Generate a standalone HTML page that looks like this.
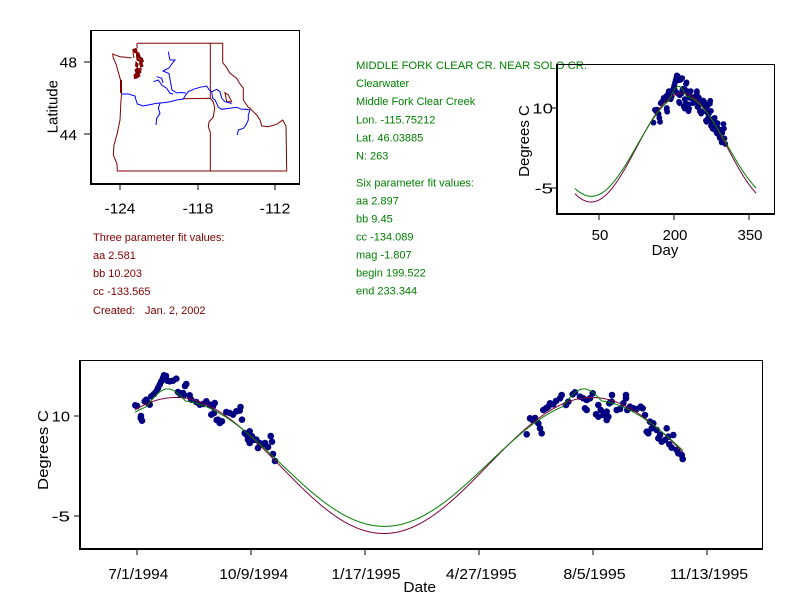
<!DOCTYPE html>
<html>
<head>
<meta charset="utf-8">
<style>
html,body{margin:0;padding:0;background:#fff;}
svg{display:block;}
text{font-family:"Liberation Sans",Arial,sans-serif;}
.t{font-size:15px;fill:#000;}
.s{font-size:11px;}
.g{fill:#008000;}
.r{fill:#800000;}
</style>
</head>
<body>
<svg id="s" xmlns="http://www.w3.org/2000/svg" width="792" height="611" viewBox="0 0 792 611">
<rect x="0" y="0" width="792" height="611" fill="#fff"/>

<!-- ===== MAP ===== -->
<g fill="none" stroke-width="1">
  <path stroke="#800000" d="M137.3,43.3 L222.7,43.3 L222.7,62.7 L226,66.7 L230,73.3 L236.7,78.3 L240,84 L243.3,88 L243.3,100 L248.3,107.3 L250,108.3 L256.7,115 L260,120 L261.7,126 L268.3,126.7 L276.7,124.3 L282.7,120 L286,126 L286.7,171 L117.3,171 L117,164 L113.3,155 L114,145 L117.3,133.3 L120,120 L121,100 L121.7,94 L120.5,80 L117.7,70 L116,64 L113.3,58 L112.7,54 L116,55.3 L120,56.7 L126,57.3 L131.7,58"/>
  <path stroke="#800000" d="M210.3,43.3 L210.3,98.3"/>
  <path stroke="#800000" d="M183.3,98.7 L210.3,98.3 L213.3,102 L214.7,108 L213.3,117 L209,122 L208.3,127 L210.3,132 L210.3,171"/>
  <path stroke="#800000" d="M225,92.7 L228.3,95 L231.7,101.7 L226.7,101.7 Z"/>
  <g fill="#800000" stroke="#800000" stroke-width="1">
    <path d="M133,49.5 L136,48.5 L137,51 L135,53 L133,52 Z"/>
    <path d="M136.5,52 L139,53 L140,56 L138,58 L139,61 L137,60 L136.5,56 Z"/>
    <path d="M139,56.5 L142,58 L143.5,61 L142,63 L143,66 L141,67 L139.5,64 L140,60 Z"/>
    <path d="M136,62 L138,64 L137.5,67 L135.5,66 Z"/>
    <path d="M137,68 L140,69 L141,72 L139,74 L140,76 L137,78 L134.5,78.5 L134,75 L136,73 L135,70 Z"/>
  </g>
  <path stroke="#800000" d="M136.7,43.3 L137.3,48.5 M133,53 L134,58 M140,67 L142,70"/>
  <rect x="120" y="80" width="2" height="13" fill="#800000" stroke="none"/>
  <path stroke="#0000ff" d="M121.7,94 L128.3,94 L135,96 L136,100 L137.3,104 L143.3,106 L148.3,105 L156.7,103.3 L163.3,102.7 L170,101.7 L176.7,100 L183.3,99 L185,96 L188.3,91.7 L193.3,89.3 L200,87.3 L206.7,86 L209.3,90 L211.7,91.7 L212.7,98.3 L215,100 L216.7,103.3 L218.3,107.3 L221.7,109.3 L230,108.3 L236.7,107.3 L241.7,109.3 L246.7,109.3 L250,110 L248.3,115 L248.3,120 L246,125 L243.3,128.3 L238.3,130 L237.3,135"/>
  <path stroke="#0000ff" d="M211.7,91.7 L216.7,89.3 L220,91.7 L221.7,98.3 L225,101.7 L230,103 L231.7,104"/>
  <path stroke="#0000ff" d="M168.3,51.7 L170,60 L175,60 L171.7,64 L169,68 L163,71 L169,73.5 L170.7,83 L172,90 L177,93 L181,92.5 L186,93"/>
  <path stroke="#0000ff" d="M153.3,81.7 L158.3,80 L161.7,85 L166.7,88.3 L170,93.3 L173.3,94"/>
  <path stroke="#0000ff" d="M156.7,76.7 L161.7,78.3 L163,83"/>
  <path stroke="#0000ff" d="M160,103.3 L158.3,108.3 L160,113.3 L156.7,118.3 L156,125"/>
</g>
<!-- map frame -->
<g stroke="#000" fill="none">
  <rect x="90.5" y="30.5" width="209" height="153" stroke-width="1"/>
  <line x1="91" y1="30" x2="91" y2="185" stroke-width="2"/>
  <line x1="90" y1="184" x2="300" y2="184" stroke-width="2"/>
  <line x1="120" y1="184" x2="120" y2="190"/>
  <line x1="198" y1="184" x2="198" y2="190"/>
  <line x1="275" y1="184" x2="275" y2="190"/>
  <line x1="84" y1="62" x2="90" y2="62"/>
  <line x1="84" y1="134" x2="90" y2="134"/>
</g>
<text class="t" x="120" y="213.3" text-anchor="middle" textLength="30.7" lengthAdjust="spacingAndGlyphs">-124</text>
<text class="t" x="198" y="213.3" text-anchor="middle" textLength="30.7" lengthAdjust="spacingAndGlyphs">-118</text>
<text class="t" x="275" y="213.3" text-anchor="middle" textLength="30.7" lengthAdjust="spacingAndGlyphs">-112</text>
<text class="t" x="77" y="67.3" text-anchor="end" textLength="17.3" lengthAdjust="spacingAndGlyphs">48</text>
<text class="t" x="77" y="140" text-anchor="end" textLength="17.3" lengthAdjust="spacingAndGlyphs">44</text>
<text class="t" transform="translate(57.5,106.7) rotate(-90)" text-anchor="middle" textLength="53.3" lengthAdjust="spacingAndGlyphs">Latitude</text>

<!-- ===== LEFT TEXT ===== -->
<g class="s r">
  <text x="93" y="241">Three parameter fit values:</text>
  <text x="93" y="259">aa 2.581</text>
  <text x="93" y="277">bb 10.203</text>
  <text x="93" y="295">cc -133.565</text>
  <text x="93" y="314">Created:</text>
  <text x="145" y="314">Jan. 2, 2002</text>
</g>

<!-- ===== RIGHT TEXT ===== -->
<g class="s g">
  <text x="356" y="69" textLength="231" lengthAdjust="spacingAndGlyphs">MIDDLE FORK CLEAR CR.  NEAR SOLO CR.</text>
  <text x="356" y="87">Clearwater</text>
  <text x="356" y="105">Middle Fork Clear Creek</text>
  <text x="356" y="123.5">Lon. -115.75212</text>
  <text x="356" y="141.5">Lat. 46.03885</text>
  <text x="356" y="159.5">N: 263</text>
  <text x="356" y="186.5">Six parameter fit values:</text>
  <text x="356" y="204.5">aa 2.897</text>
  <text x="356" y="222.5">bb 9.45</text>
  <text x="356" y="240.5">cc -134.089</text>
  <text x="356" y="258.5">mag -1.807</text>
  <text x="356" y="276.5">begin 199.522</text>
  <text x="356" y="294.5">end 233.344</text>
</g>

<!-- ===== TOP RIGHT CHART ===== -->
<g id="gt"></g>
<g stroke="#000" fill="none">
  <line x1="557" y1="64.5" x2="774.5" y2="64.5"/>
  <line x1="774.5" y1="64" x2="774.5" y2="215"/>
  <line x1="557" y1="64" x2="557" y2="215" stroke-width="2"/>
  <line x1="556" y1="214" x2="775" y2="214" stroke-width="2"/>
  <line x1="551" y1="108" x2="557" y2="108"/>
  <line x1="551" y1="188" x2="557" y2="188"/>
  <line x1="599" y1="214" x2="599" y2="220"/>
  <line x1="674" y1="214" x2="674" y2="220"/>
  <line x1="749" y1="214" x2="749" y2="220"/>
</g>
<text class="t" x="553" y="113.3" text-anchor="end" textLength="20.7" lengthAdjust="spacingAndGlyphs">10</text>
<text class="t" x="553" y="193.3" text-anchor="end" textLength="18.3" lengthAdjust="spacingAndGlyphs">-5</text>
<text class="t" x="600" y="240" text-anchor="middle" textLength="16.7" lengthAdjust="spacingAndGlyphs">50</text>
<text class="t" x="675" y="240" text-anchor="middle" textLength="24.7" lengthAdjust="spacingAndGlyphs">200</text>
<text class="t" x="750" y="240" text-anchor="middle" textLength="25" lengthAdjust="spacingAndGlyphs">350</text>
<text class="t" x="665" y="255" text-anchor="middle" textLength="26.7" lengthAdjust="spacingAndGlyphs">Day</text>
<text class="t" transform="translate(529,141) rotate(-90)" text-anchor="middle" textLength="71.7" lengthAdjust="spacingAndGlyphs">Degrees C</text>

<!-- ===== BOTTOM CHART ===== -->
<g id="gb"></g>
<g stroke="#000" fill="none">
  <line x1="80" y1="360.5" x2="762.5" y2="360.5"/>
  <line x1="762.5" y1="360" x2="762.5" y2="550"/>
  <line x1="80" y1="360" x2="80" y2="550" stroke-width="2"/>
  <line x1="79" y1="549" x2="763" y2="549" stroke-width="2"/>
  <line x1="74" y1="416" x2="80" y2="416"/>
  <line x1="74" y1="516" x2="80" y2="516"/>
  <line x1="137" y1="549" x2="137" y2="555"/>
  <line x1="251" y1="549" x2="251" y2="555"/>
  <line x1="365" y1="549" x2="365" y2="555"/>
  <line x1="479" y1="549" x2="479" y2="555"/>
  <line x1="593" y1="549" x2="593" y2="555"/>
  <line x1="707" y1="549" x2="707" y2="555"/>
</g>
<text class="t" x="70" y="421.7" text-anchor="end" textLength="18.3" lengthAdjust="spacingAndGlyphs">10</text>
<text class="t" x="70" y="521.7" text-anchor="end" textLength="18.3" lengthAdjust="spacingAndGlyphs">-5</text>
<text class="t" x="138.3" y="579" text-anchor="middle" textLength="60" lengthAdjust="spacingAndGlyphs">7/1/1994</text>
<text class="t" x="253.8" y="579" text-anchor="middle" textLength="69" lengthAdjust="spacingAndGlyphs">10/9/1994</text>
<text class="t" x="366" y="579" text-anchor="middle" textLength="69" lengthAdjust="spacingAndGlyphs">1/17/1995</text>
<text class="t" x="481.3" y="579" text-anchor="middle" textLength="70.7" lengthAdjust="spacingAndGlyphs">4/27/1995</text>
<text class="t" x="594.5" y="579" text-anchor="middle" textLength="62.3" lengthAdjust="spacingAndGlyphs">8/5/1995</text>
<text class="t" x="709" y="579" text-anchor="middle" textLength="78.3" lengthAdjust="spacingAndGlyphs">11/13/1995</text>
<text class="t" x="419.7" y="592" text-anchor="middle" textLength="32.7" lengthAdjust="spacingAndGlyphs">Date</text>
<text class="t" transform="translate(48,450) rotate(-90)" text-anchor="middle" textLength="80" lengthAdjust="spacingAndGlyphs">Degrees C</text>
</svg>

<script>
(function(){
var NS="http://www.w3.org/2000/svg";
function red(t){return 2.581+10.203*Math.sin(2*Math.PI*(t-124.75)/365);}
function green(t){t=((t%365)+365)%365;var v=2.897+9.45*Math.sin(2*Math.PI*(t-125.27)/365);if(t>190.7&&t<224.5)v+=1.807*Math.sin(Math.PI*(t-190.7)/33.8);return v;}
function el(n,a,p){var e=document.createElementNS(NS,n);for(var k in a)e.setAttribute(k,a[k]);p.appendChild(e);return e;}
var gb=document.getElementById('gb'),gt=document.getElementById('gt');
var pts=[
[135.3,405.3],[137,406],[140.7,418],[142,420.7],[141,416],[144.7,401.3],[146.3,399.7],[148,403],[149.7,404.7],[151.3,396.3],[154,394],[156.3,391.3],[158,388],[159.7,384.7],[161.3,381.3],[163,378],[164,375.3],[166,376],[167.3,380.7],[169.7,381.3],[173,380.7],[176.3,378.7],[186.3,384],[185,386],[178,392],[180.7,394.7],[183,393],[184,395],[189.7,395.3],[191.3,399.7],[196.3,402],[199.7,404.7],[203,404],[206.3,401.3],[209.7,404.7],[213,406.3],[214.7,403],[211.3,414.7],[214,413],[216.7,420],[218,419.7],[219.7,423],[222,421.3],[226.3,412],[229.7,413],[233,414.7],[236.3,411.3],[239.7,410.7],[240.5,407],[242,419.7],[244.7,433],[246.3,434.7],[249.7,431.3],[252,436.3],[248,439.7],[249.7,443],[253,440],[256.3,439.7],[259.7,443],[263,444.7],[258,448],[265,443],[268,447],[270.7,436],[272,441.7],[273,454],[275,461],
[526.7,434.3],[530,418.3],[532.7,420],[535,418],[538.3,423.3],[540,428.3],[541.7,433.3],[543.3,410],[546,408.3],[548.3,406.7],[550,403.3],[553.3,404.3],[556,401],[560,398.3],[561.7,395],[566,405],[568.3,401.7],[572.7,394.3],[575,392.3],[580,396.7],[583.3,398.3],[586.7,400],[590,398.3],[592.7,393.3],[585,408.3],[586.7,410],[598.3,405],[600.7,410],[603.3,415],[608.3,416.7],[606.7,420],[606.7,411.7],[596,414.3],[598.3,416.7],[609.3,403.3],[611.7,401.7],[612,395],[616.7,410],[620,409],[623.3,403.3],[626,398.3],[626,395],[627.3,410],[630,406.7],[633.3,408.3],[636.7,409],[640.7,406.7],[642.7,408.3],[645,415],[650,421.7],[653.3,423.3],[651.7,428.3],[646.7,431.7],[648.3,433.3],[656.7,430],[660,435],[658.3,438.3],[661.7,441.7],[665,440],[668.3,436.7],[673.3,435],[666.7,428.3],[669.3,444.3],[671.7,447.7],[676.7,450],[678.3,453.3],[681.7,455],[682.7,459]
];
var i;
for(i=0;i<pts.length;i++){
  var x=pts[i][0],y=pts[i][1];
  el('circle',{cx:x,cy:y,r:3.3,fill:'#000080'},gb);
  var d=(x-137)/1.14,doy=(d+182)%365;
  el('circle',{cx:(574.4+doy*0.498).toFixed(2),cy:(108+(y-416)*0.8).toFixed(2),r:2.9,fill:'#000080'},gt);
}
function bottom(f){var s='';for(var d=-1.75;d<=479;d+=0.5){var x=137+d*1.14,y=416-(f(d+182)-10)*6.667;s+=(s?'L':'M')+x.toFixed(2)+','+y.toFixed(2);}return s;}
function top(f){var s='';for(var t=1;t<=365;t+=0.5){var x=574.4+t*0.498,y=108-(f(t)-10)*5.333;s+=(s?'L':'M')+x.toFixed(2)+','+y.toFixed(2);}return s;}
el('path',{d:bottom(red),fill:'none',stroke:'#800040','stroke-width':1},gb);
el('path',{d:bottom(green),fill:'none',stroke:'#008000','stroke-width':1},gb);
el('path',{d:top(red),fill:'none',stroke:'#800040','stroke-width':1},gt);
el('path',{d:top(green),fill:'none',stroke:'#008000','stroke-width':1},gt);
})();
</script>
</body>
</html>
